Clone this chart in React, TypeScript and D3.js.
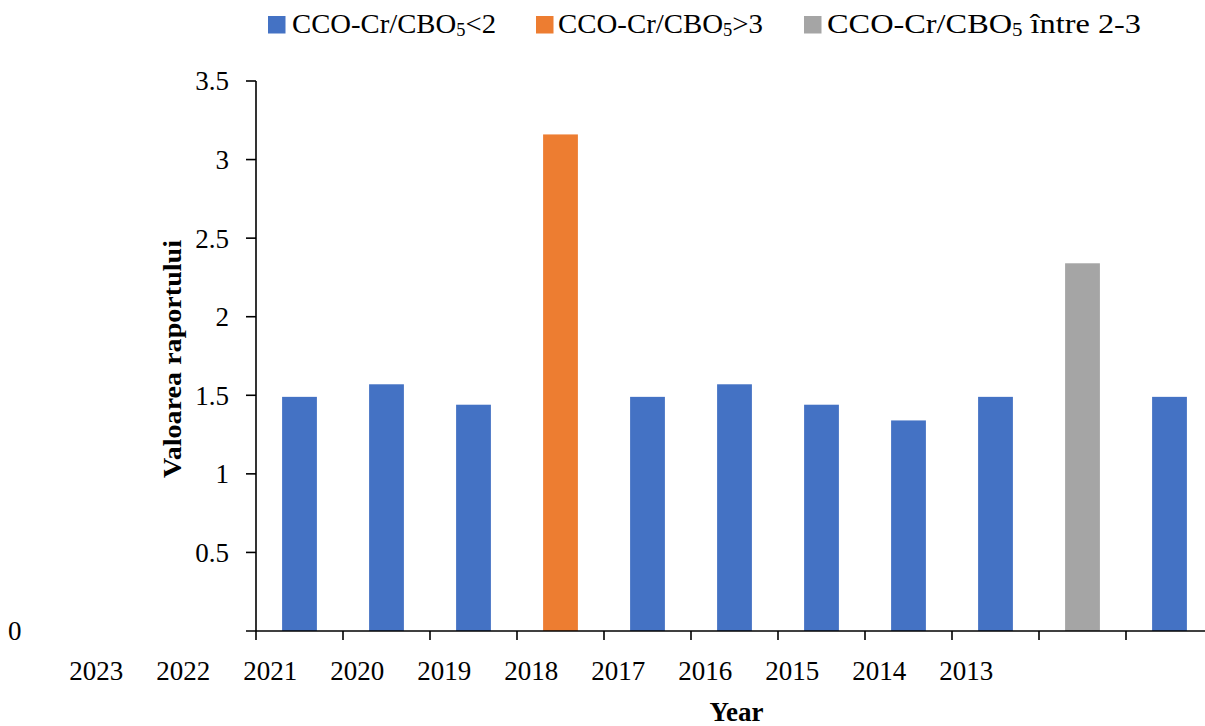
import React from "react";
import * as d3 from "d3";

const YEARS = ["2023", "2022", "2021", "2020", "2019", "2018", "2017", "2016", "2015", "2014", "2013"];
const VALUES = [1.49, 1.57, 1.44, 3.16, 1.49, 1.57, 1.44, 1.34, 1.49, 2.34, 1.49];
const CLASSES = ["lt2", "lt2", "lt2", "gt3", "lt2", "lt2", "lt2", "lt2", "lt2", "mid", "lt2"];
const SERIES = [
  { key: "lt2", main: "CCO-Cr/CBO", sub: "5", tail: "<2" },
  { key: "gt3", main: "CCO-Cr/CBO", sub: "5", tail: ">3" },
  { key: "mid", main: "CCO-Cr/CBO", sub: "5", tail: " între 2-3" },
];
const Y_TICKS = [0.5, 1, 1.5, 2, 2.5, 3, 3.5];

const COLORS: Record<string, string> = { lt2: "#4472C4", gt3: "#ED7D31", mid: "#A5A5A5" };
const FONT = "'Palatino Linotype', 'Book Antiqua', Palatino, 'Liberation Serif', serif";

export default function App() {
  const W = 1205, H = 726;
  const x0 = 256, step = 87;
  const x = d3.scaleBand<string>().domain(YEARS).range([x0, x0 + step * YEARS.length]).paddingInner(0.6).paddingOuter(0.3);
  const y = d3.scaleLinear().domain([0, 3.5]).range([631, 81]);
  const boundary = (i: number) => x0 + i * x.step();

  const legendPos = [
    { sq: 268, tx: 292, len: 204 },
    { sq: 536, tx: 558, len: 205 },
    { sq: 804, tx: 827, len: 314 },
  ];

  return (
    <svg width={W} height={H} style={{ position: "absolute", left: 0, top: 0, background: "#fff" }} fontFamily={FONT}>
      <rect x={0} y={0} width={W} height={H} fill="#fff" />
      {/* legend */}
      {SERIES.map((s, i) => (
        <g key={s.key}>
          <rect x={legendPos[i].sq} y={16} width={17.5} height={17.5} fill={COLORS[s.key]} />
          <text x={legendPos[i].tx} y={32.5} fontSize={28} fill="#000" textLength={legendPos[i].len} lengthAdjust="spacingAndGlyphs">
            {s.main}
            <tspan fontSize={18} dy={3}>{s.sub}</tspan>
            <tspan dy={-3}>{s.tail}</tspan>
          </text>
        </g>
      ))}
      {/* bars */}
      {YEARS.map((yr, i) => (
        <rect key={yr} x={x(yr)} y={y(VALUES[i])} width={x.bandwidth()} height={y(0) - y(VALUES[i])} fill={COLORS[CLASSES[i]]} />
      ))}
      {/* y axis */}
      <line x1={x0} x2={x0} y1={y(3.5)} y2={y(0)} stroke="#000" strokeWidth={1.6} />
      {Y_TICKS.map((t) => (
        <g key={t}>
          <line x1={x0 - 10} x2={x0} y1={y(t)} y2={y(t)} stroke="#000" strokeWidth={1.6} />
          <text x={229} y={y(t)} dy="0.35em" textAnchor="end" fontSize={27} fill="#000">{t}</text>
        </g>
      ))}
      <text x={14.7} y={y(0)} dy="0.35em" textAnchor="middle" fontSize={27} fill="#000">0</text>
      {/* x axis */}
      <line x1={x0 - 10} x2={W} y1={y(0)} y2={y(0)} stroke="#000" strokeWidth={1.6} />
      {d3.range(YEARS.length + 1).map((i) => (
        <line key={i} x1={boundary(i)} x2={boundary(i)} y1={y(0)} y2={y(0) + 9} stroke="#000" strokeWidth={1.6} />
      ))}
      {YEARS.map((yr, i) => (
        <text key={yr} x={boundary(i) - 2 * x.step() + 14.3} y={680} textAnchor="middle" fontSize={27} fill="#000">{yr}</text>
      ))}
      <text x={736.5} y={721} textAnchor="middle" fontSize={27} fontWeight="bold" fill="#000">Year</text>
      <text transform={`translate(181,359) rotate(-90)`} textAnchor="middle" fontSize={26} fontWeight="bold" fill="#000" textLength={238} lengthAdjust="spacingAndGlyphs">Valoarea raportului</text>
    </svg>
  );
}
